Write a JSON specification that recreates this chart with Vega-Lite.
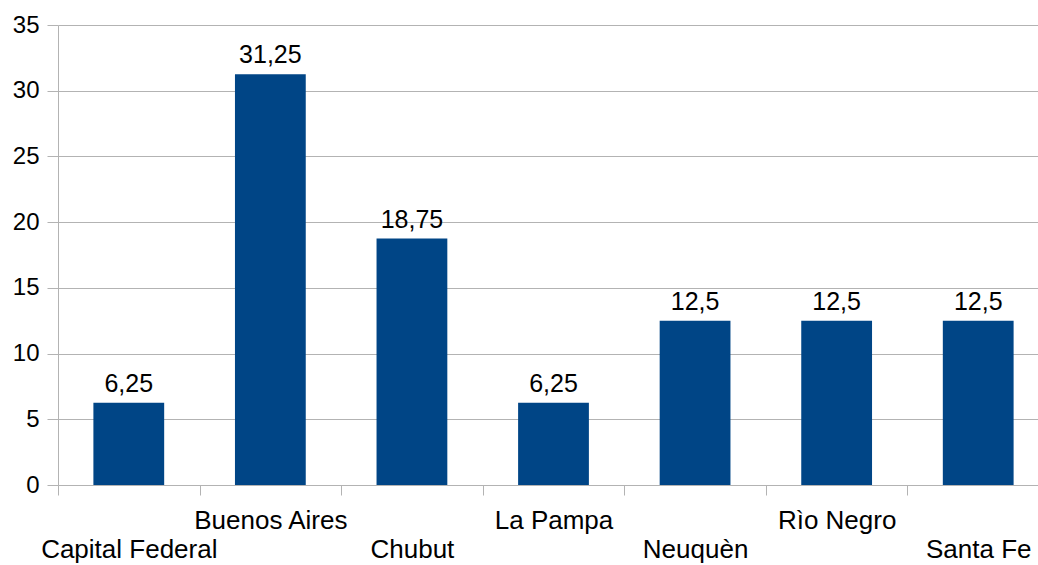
{
  "$schema": "https://vega.github.io/schema/vega-lite/v6.json",
  "width": 980,
  "height": 460,
  "autosize": {"type": "none"},
  "padding": {"left": 58, "top": 25, "right": 0, "bottom": 80},
  "background": "white",
  "config": {
    "view": {"stroke": null},
    "font": "Liberation Sans",
    "locale": {"number": {"decimal": ",", "thousands": ".", "grouping": [3], "currency": ["", " €"]}}
  },
  "data": {
    "values": [
      {"provincia": "Capital Federal", "valor": 6.25},
      {"provincia": "Buenos Aires", "valor": 31.25},
      {"provincia": "Chubut", "valor": 18.75},
      {"provincia": "La Pampa", "valor": 6.25},
      {"provincia": "Neuquèn", "valor": 12.5},
      {"provincia": "Rìo Negro", "valor": 12.5},
      {"provincia": "Santa Fe", "valor": 12.5}
    ]
  },
  "encoding": {
    "x": {
      "field": "provincia",
      "type": "nominal",
      "sort": null,
      "scale": {"paddingInner": 0, "paddingOuter": 0, "range": [0, 991]},
      "axis": {
        "title": null,
        "labelAngle": 0,
        "labelFont": "Liberation Sans",
        "labelFontSize": 26,
        "labelColor": "#000000",
        "labelBaseline": "alphabetic",
        "labelPadding": {"condition": {"test": "indexof(['Capital Federal','Chubut','Neuquèn','Santa Fe'], datum.value) >= 0", "value": 62}, "value": 33},
        "tickBand": "extent",
        "tickSize": 10,
        "tickColor": "#b3b3b3",
        "domainColor": "#b3b3b3",
        "grid": false,
        "labelOverlap": false
      }
    },
    "y": {
      "field": "valor",
      "type": "quantitative",
      "scale": {"domain": [0, 35], "nice": false},
      "axis": {
        "title": null,
        "values": [0, 5, 10, 15, 20, 25, 30, 35],
        "labelFont": "Liberation Sans",
        "labelFontSize": 24,
        "labelColor": "#000000",
        "labelPadding": 8,
        "tickSize": 11,
        "tickColor": "#b3b3b3",
        "domainColor": "#b3b3b3",
        "gridColor": "#b3b3b3",
        "grid": true
      }
    }
  },
  "layer": [
    {
      "mark": {"type": "bar", "color": "#004586", "width": {"band": 0.5}}
    },
    {
      "mark": {"type": "text", "fontSize": 25, "font": "Liberation Sans", "color": "#000000", "baseline": "alphabetic", "dy": -11},
      "encoding": {
        "text": {"field": "valor", "type": "quantitative", "format": "~g"}
      }
    }
  ]
}
